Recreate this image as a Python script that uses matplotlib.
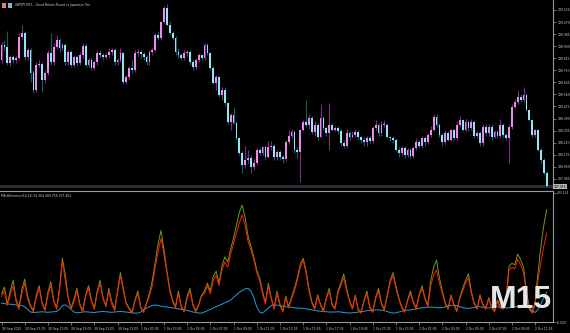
import numpy as np
import matplotlib.pyplot as plt
from matplotlib.patches import Rectangle

plt.rcParams['font.family'] = 'DejaVu Sans'
plt.rcParams['axes.unicode_minus'] = False

W, H = 570, 333

# GBPJPY M15 bars (close / high / low), first bar opens at first_open
first_open = 198.803
closes = [
    198.908, 198.894, 198.781, 198.824, 198.803, 198.817, 198.965, 198.993, 198.824, 198.873,
    198.711, 198.591, 198.767, 198.774, 198.662, 198.711, 198.852, 198.789, 198.894, 198.943,
    198.887, 198.908, 198.789, 198.859, 198.767, 198.824, 198.781, 198.838, 198.901, 198.767,
    198.803, 198.746, 198.789, 198.852, 198.838, 198.824, 198.838, 198.859, 198.873, 198.789,
    198.803, 198.852, 198.648, 198.683, 198.746, 198.732, 198.852, 198.859, 198.845, 198.824,
    198.789, 198.859, 198.873, 198.979, 198.957, 199.070, 199.169, 199.049, 198.993, 198.957,
    198.859, 198.838, 198.817, 198.852, 198.859, 198.789, 198.753, 198.803, 198.838, 198.817,
    198.908, 198.852, 198.746, 198.641, 198.683, 198.556, 198.591, 198.500, 198.366, 198.415,
    198.359, 198.253, 198.148, 198.063, 198.099, 198.113, 198.049, 198.077, 198.169, 198.148,
    198.190, 198.120, 198.190, 198.197, 198.120, 198.155, 198.120, 198.106, 198.225, 198.268,
    198.296, 198.169, 198.155, 198.310, 198.366, 198.345, 198.394, 198.296, 198.345, 198.261,
    198.394, 198.324, 198.289, 198.345, 198.310, 198.324, 198.303, 198.218, 198.197, 198.289,
    198.261, 198.275, 198.296, 198.261, 198.239, 198.225, 198.253, 198.232, 198.324, 198.345,
    198.289, 198.345, 198.345, 198.261, 198.253, 198.239, 198.169, 198.148, 198.183, 198.134,
    198.169, 198.127, 198.183, 198.225, 198.197, 198.253, 198.225, 198.275, 198.310, 198.401,
    198.345, 198.275, 198.225, 198.289, 198.239, 198.310, 198.253, 198.345, 198.380, 198.310,
    198.366, 198.324, 198.366, 198.268, 198.289, 198.218, 198.331, 198.289, 198.331, 198.261,
    198.296, 198.268, 198.345, 198.275, 198.253, 198.331, 198.472, 198.507, 198.542, 198.521,
    198.556, 198.451, 198.380, 198.275, 198.310, 198.169, 198.099, 198.007, 197.916,
]
highs = [
    198.93, 198.94, 199.01, 198.84, 198.84, 198.83, 198.99, 199.05, 199.01, 198.89,
    198.89, 198.73, 198.79, 198.80, 198.79, 198.73, 198.87, 198.99, 198.92, 198.98,
    198.96, 198.92, 198.92, 198.87, 198.87, 198.84, 198.84, 198.86, 198.92, 198.92,
    198.82, 198.82, 198.80, 198.87, 198.87, 198.85, 198.85, 198.89, 198.89, 198.89,
    198.82, 198.89, 198.86, 198.70, 198.76, 198.80, 198.87, 198.88, 198.87, 198.86,
    198.84, 198.87, 198.89, 198.99, 199.01, 199.08, 199.18, 199.20, 199.08, 199.01,
    198.97, 198.89, 198.85, 198.87, 198.87, 198.87, 198.80, 198.82, 198.85, 198.84,
    198.92, 198.92, 198.86, 198.76, 198.70, 198.69, 198.61, 198.61, 198.51, 198.43,
    198.47, 198.37, 198.26, 198.16, 198.20, 198.17, 198.13, 198.11, 198.18, 198.18,
    198.20, 198.20, 198.23, 198.23, 198.21, 198.17, 198.17, 198.13, 198.24, 198.31,
    198.32, 198.31, 198.19, 198.32, 198.38, 198.52, 198.42, 198.41, 198.37, 198.36,
    198.49, 198.41, 198.34, 198.50, 198.36, 198.34, 198.34, 198.32, 198.24, 198.32,
    198.30, 198.30, 198.32, 198.31, 198.27, 198.26, 198.27, 198.27, 198.34, 198.38,
    198.36, 198.37, 198.38, 198.36, 198.27, 198.27, 198.25, 198.19, 198.20, 198.20,
    198.18, 198.18, 198.20, 198.25, 198.24, 198.27, 198.27, 198.29, 198.34, 198.42,
    198.42, 198.36, 198.29, 198.31, 198.30, 198.32, 198.32, 198.37, 198.41, 198.39,
    198.39, 198.38, 198.39, 198.38, 198.30, 198.30, 198.35, 198.35, 198.35, 198.35,
    198.31, 198.31, 198.39, 198.36, 198.29, 198.35, 198.49, 198.53, 198.59, 198.56,
    198.61, 198.57, 198.46, 198.39, 198.32, 198.32, 198.18, 198.11, 198.02,
]
lows = [
    198.78, 198.87, 198.77, 198.76, 198.78, 198.78, 198.80, 198.95, 198.80, 198.80,
    198.65, 198.57, 198.58, 198.75, 198.58, 198.64, 198.70, 198.77, 198.77, 198.88,
    198.86, 198.87, 198.77, 198.77, 198.75, 198.75, 198.76, 198.77, 198.82, 198.75,
    198.75, 198.73, 198.73, 198.77, 198.82, 198.80, 198.81, 198.82, 198.84, 198.77,
    198.77, 198.79, 198.63, 198.63, 198.67, 198.71, 198.72, 198.83, 198.82, 198.80,
    198.77, 198.77, 198.84, 198.86, 198.94, 198.94, 199.06, 199.04, 198.98, 198.94,
    198.84, 198.82, 198.80, 198.80, 198.83, 198.77, 198.73, 198.74, 198.79, 198.80,
    198.80, 198.84, 198.73, 198.63, 198.59, 198.54, 198.52, 198.48, 198.35, 198.31,
    198.35, 198.24, 198.13, 198.01, 198.04, 198.08, 198.01, 198.03, 198.06, 198.13,
    198.13, 198.10, 198.11, 198.17, 198.10, 198.10, 198.10, 198.08, 198.09, 198.21,
    198.25, 198.15, 198.11, 197.94, 198.30, 198.33, 198.32, 198.28, 198.27, 198.24,
    198.25, 198.31, 198.27, 198.17, 198.30, 198.30, 198.28, 198.20, 198.18, 198.18,
    198.24, 198.25, 198.26, 198.24, 198.22, 198.20, 198.20, 198.22, 198.22, 198.31,
    198.27, 198.27, 198.33, 198.25, 198.23, 198.22, 198.16, 198.12, 198.13, 198.11,
    198.12, 198.11, 198.11, 198.17, 198.18, 198.18, 198.20, 198.21, 198.26, 198.30,
    198.33, 198.26, 198.20, 198.21, 198.23, 198.23, 198.24, 198.24, 198.33, 198.30,
    198.30, 198.30, 198.31, 198.25, 198.25, 198.20, 198.20, 198.27, 198.27, 198.24,
    198.25, 198.25, 198.25, 198.26, 198.24, 198.08, 198.32, 198.46, 198.49, 198.51,
    198.51, 198.44, 198.37, 198.26, 198.26, 198.16, 198.08, 197.99, 197.90,
]

# MA difference indicator, three buffers
ma_blue = [
    64, 62, 60, 60, 58, 57, 56, 55, 50, 40,
    30, 28, 29, 30, 31, 30, 29, 30, 31, 32,
    40, 55, 57, 50, 40, 30, 27, 28, 30, 31,
    30, 29, 28, 30, 31, 32, 31, 30, 29, 30,
    31, 32, 31, 30, 28, 27, 26, 26, 30, 38,
    45, 50, 55, 57, 55, 52, 50, 49, 48, 46,
    44, 42, 40, 38, 36, 33, 30, 28, 26, 26,
    30, 35, 40, 45, 50, 55, 60, 65, 70, 76,
    85, 95, 105, 112, 118, 120, 110, 85, 50, 30,
    26, 35, 45, 55, 57, 56, 54, 52, 50, 49,
    48, 46, 45, 45, 44, 42, 40, 38, 36, 34,
    33, 32, 31, 30, 30, 30, 31, 30, 28, 27,
    26, 27, 28, 30, 31, 33, 35, 36, 37, 38,
    38, 37, 35, 32, 28, 26, 27, 30, 33, 36,
    37, 38, 40, 42, 44, 46, 47, 48, 49, 48,
    47, 46, 47, 50, 53, 55, 56, 54, 50, 47,
    45, 44, 45, 47, 49, 50, 48, 46, 45, 47,
    49, 50, 48, 46, 45, 46, 48, 50, 52, 55,
    56, 52, 45, 35, 28, 40, 60, 85, 106,
]
ma_green = [
    100, 125, 60, 110, 150, 80, 45, 115, 155, 90,
    55, 35, 95, 130, 65, 40, 105, 145, 75, 45,
    120, 235, 170, 85, 45, 80, 120, 60, 35, 95,
    130, 75, 45, 110, 150, 85, 55, 120, 70, 40,
    110, 180, 120, 65, 45, 30, 75, 110, 50, 32,
    65, 100, 150, 220, 290, 340, 270, 190, 120, 75,
    50, 110, 50, 35, 90, 120, 60, 35, 60, 95,
    110, 140, 110, 165, 185, 140, 205, 240, 220, 270,
    310, 360, 410, 437, 390, 320, 280, 240, 190, 160,
    110, 65, 140, 85, 45, 110, 60, 35, 90, 50,
    85, 120, 160, 210, 235, 190, 120, 70, 45, 95,
    60, 35, 85, 120, 60, 45, 110, 140, 175, 120,
    75, 45, 95, 40, 30, 75, 110, 50, 32, 85,
    120, 65, 40, 95, 150, 180, 130, 85, 50, 32,
    75, 110, 70, 45, 95, 130, 85, 55, 150, 200,
    228, 160, 110, 65, 45, 95, 60, 35, 85, 120,
    150, 175, 110, 65, 45, 95, 60, 45, 85, 50,
    35, 75, 50, 45, 80, 205, 215, 210, 250, 230,
    200, 110, 45, 28, 70, 180, 280, 360, 420,
]
ma_red = [
    90, 110, 55, 95, 130, 70, 40, 100, 140, 80,
    50, 30, 85, 120, 60, 35, 95, 130, 70, 40,
    110, 225, 150, 80, 40, 70, 110, 55, 30, 90,
    120, 70, 40, 100, 140, 80, 50, 110, 60, 35,
    100, 170, 110, 60, 40, 25, 70, 100, 45, 28,
    60, 90, 130, 200, 260, 310, 250, 180, 110, 70,
    45, 100, 45, 30, 80, 110, 55, 30, 55, 90,
    100, 130, 100, 150, 170, 130, 190, 220, 200, 250,
    290, 330, 370, 400, 360, 300, 266, 230, 180, 150,
    100, 60, 130, 80, 40, 100, 55, 30, 85, 45,
    80, 110, 150, 200, 228, 180, 110, 65, 40, 90,
    55, 30, 80, 110, 55, 40, 100, 130, 160, 110,
    70, 40, 90, 35, 25, 70, 100, 45, 28, 80,
    110, 60, 35, 90, 140, 170, 120, 80, 45, 28,
    70, 100, 65, 40, 90, 120, 80, 50, 130, 170,
    190, 140, 100, 60, 40, 90, 55, 30, 80, 110,
    140, 160, 100, 60, 40, 90, 55, 40, 80, 45,
    30, 70, 45, 40, 75, 190, 200, 195, 230, 210,
    180, 100, 40, 25, 60, 150, 220, 280, 330,
]

price_ticks = [199.155, 199.070, 198.985, 198.900, 198.815, 198.730, 198.645, 198.560,
               198.475, 198.390, 198.305, 198.220, 198.135, 198.050, 197.965]
ind_ticks = [483.114, -8.029]
time_labels = ['30 Sep 2025', '30 Sep 15:05', '30 Sep 17:05', '30 Sep 19:05', '30 Sep 21:05',
               '30 Sep 23:05', '1 Oct 01:05', '1 Oct 03:05', '1 Oct 05:05', '1 Oct 07:05',
               '1 Oct 09:05', '1 Oct 11:05', '1 Oct 13:05', '1 Oct 15:05', '1 Oct 17:05',
               '1 Oct 19:05', '1 Oct 21:05', '1 Oct 23:05', '2 Oct 01:05', '2 Oct 03:05',
               '2 Oct 05:05', '2 Oct 07:05', '2 Oct 09:05', '2 Oct 11:05']
LABEL_EVERY = 8

BG = 'black'
UP_BODY = '#eb8cec'
DN_BODY = '#95e4f6'
UP_WICK = '#7e2a88'
DN_WICK = '#0e5d71'
AXIS_COL = '#9a9a9a'
TEXT_COL = '#cfcfcf'
FS = 2.2

n = len(closes)
x = np.arange(n)
o = np.array([first_open] + closes[:-1])
c = np.array(closes)
hi = np.maximum(np.array(highs), np.maximum(o, c))
lo = np.minimum(np.array(lows), np.minimum(o, c))
up = c >= o

fig = plt.figure(figsize=(W / 100, H / 100), dpi=100, facecolor=BG)
ax = fig.add_axes([0, 1 - 188 / H, 553 / W, 188 / H], facecolor=BG)
ax2 = fig.add_axes([0, 11 / H, 553 / W, 131 / H], facecolor=BG)

# candles
ax.axhline(closes[-1], color='#2b2b31', lw=2.2, zorder=1)
ax.vlines(x[up], lo[up], hi[up], color=UP_WICK, lw=0.8, zorder=2)
ax.vlines(x[~up], lo[~up], hi[~up], color=DN_WICK, lw=0.8, zorder=2)
body_bot = np.minimum(o, c)
body_h = np.maximum(np.abs(c - o), 0.006)
ax.bar(x[up], body_h[up], bottom=body_bot[up], width=0.62, color=UP_BODY, linewidth=0, zorder=3)
ax.bar(x[~up], body_h[~up], bottom=body_bot[~up], width=0.62, color=DN_BODY, linewidth=0, zorder=3)

ax.set_xlim(-0.52, 190.17)
ax.set_ylim(197.901, 199.225)
ax.set_xticks([])
ax.yaxis.tick_right()
ax.set_yticks(price_ticks)
ax.set_yticklabels([f'{v:.3f}' for v in price_ticks])
ax.tick_params(axis='y', colors=AXIS_COL, labelcolor=TEXT_COL, labelsize=FS,
               length=2, width=0.5, pad=1)
for s in ['top', 'bottom', 'left']:
    ax.spines[s].set_visible(False)
ax.spines['right'].set_color(AXIS_COL)
ax.spines['right'].set_linewidth(0.8)

# indicator
ax2.plot(x, ma_blue, color='#1ea0dc', lw=0.7)
ax2.plot(x, ma_green, color='#6e9a1c', lw=0.7)
ax2.plot(x, ma_red, color='#ff2000', lw=0.7)
ax2.set_xlim(-0.52, 190.17)
ax2.set_ylim(-8.029, 490.7)
ax2.yaxis.tick_right()
ax2.set_yticks(ind_ticks)
ax2.set_yticklabels([f'{v:.3f}' for v in ind_ticks])
ax2.tick_params(axis='y', colors=AXIS_COL, labelcolor=TEXT_COL, labelsize=FS,
                length=2, width=0.5, pad=1)
ax2.set_xticks(list(range(0, n, LABEL_EVERY)))
ax2.set_xticklabels(time_labels, ha='left')
ax2.tick_params(axis='x', colors=AXIS_COL, labelcolor=TEXT_COL, labelsize=FS,
                length=2.5, width=0.5, pad=0.8)
ax2.spines['left'].set_visible(False)
for s in ['top', 'bottom', 'right']:
    ax2.spines[s].set_color(AXIS_COL)
    ax2.spines[s].set_linewidth(0.8)

# texts
fig.patches.append(Rectangle((2 / W, 1 - 8 / H), 4 / W, 5 / H, transform=fig.transFigure,
                             fc='#d9827f', ec='none'))
fig.patches.append(Rectangle((8 / W, 1 - 8 / H), 4 / W, 5 / H, transform=fig.transFigure,
                             fc='#8fb0d6', ec='none'))
fig.text(15 / W, 1 - 5 / H, 'GBPJPY,M15 - Great Britain Pound vs Japanese Yen',
         fontsize=FS, color=TEXT_COL, va='center')
fig.text(1 / W, 1 - 196 / H, 'MA difference(14,14) 91.364 489.756 337.402',
         fontsize=FS, color=TEXT_COL, va='center')
fig.text(554 / W, 1 - 186.5 / H, f'{closes[-1]:.3f}', fontsize=FS, color='black', va='center',
         bbox=dict(boxstyle='square,pad=0.25', fc='#b4b4bc', ec='none'))
fig.text(552 / W, 1 - 308 / H, 'M15', ha='right', va='baseline', fontsize=23,
         fontweight='bold', family='Liberation Sans', color='#e6e6e6')

fig.savefig('out.png', dpi=100, facecolor=BG)
